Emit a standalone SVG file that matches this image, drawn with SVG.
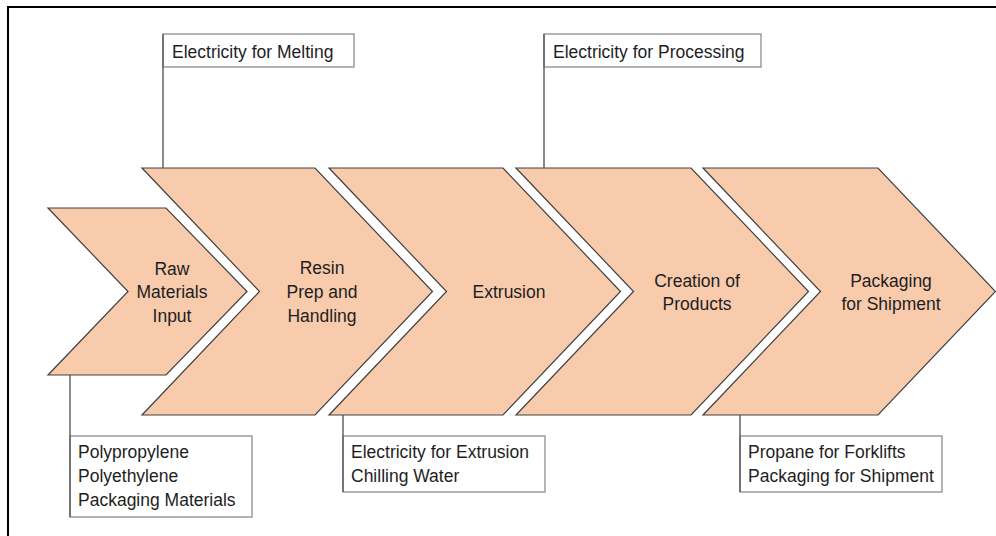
<svg xmlns="http://www.w3.org/2000/svg" width="996" height="536" viewBox="0 0 996 536">
<style>
.chev{fill:#F8CBAD;stroke:#404040;stroke-width:1.2;stroke-linejoin:miter}
.box{fill:#FFFFFF;stroke:#8C8C8C;stroke-width:1.3}
.lbl{font-family:"Liberation Sans",Arial,sans-serif;font-size:17.5px;fill:#1E1E1E}
.mid{text-anchor:middle}
.conn{stroke:#595959;stroke-width:1.4;fill:none}
.frame{stroke:#000000;stroke-width:2;fill:none}
</style>
<rect x="0" y="0" width="996" height="536" fill="#FFFFFF"/>
<path class="frame" d="M8,536 L8,7 L996,7"/>

<g id="raw-materials">
<polygon class="chev" points="48,208 166,208 247,291.5 166,375 48,375 128,291.5"/>
<text class="lbl mid" x="172" y="275">Raw</text>
<text class="lbl mid" x="172" y="298">Materials</text>
<text class="lbl mid" x="172" y="322">Input</text>
</g>
<g id="resin-prep">
<polygon class="chev" points="142,168 315,168 432.5,291.5 315,415 142,415 259.5,291.5"/>
<text class="lbl mid" x="322" y="274">Resin</text>
<text class="lbl mid" x="322" y="298">Prep and</text>
<text class="lbl mid" x="322" y="322">Handling</text>
</g>
<g id="extrusion">
<polygon class="chev" points="329,168 503,168 620.5,291.5 503,415 329,415 446.5,291.5"/>
<text class="lbl mid" x="509" y="298">Extrusion</text>
</g>
<g id="creation">
<polygon class="chev" points="516,168 691,168 808.5,291.5 691,415 516,415 633.5,291.5"/>
<text class="lbl mid" x="697" y="287">Creation of</text>
<text class="lbl mid" x="697" y="310">Products</text>
</g>
<g id="packaging">
<polygon class="chev" points="703,168 878,168 995.5,291.5 878,415 703,415 820.5,291.5"/>
<text class="lbl mid" x="891" y="287">Packaging</text>
<text class="lbl mid" x="891" y="310">for Shipment</text>
</g>

<g id="note-melting">
<rect class="box" x="163" y="34" width="191" height="33"/>
<text class="lbl" x="172" y="58">Electricity for Melting</text>
</g>
<g id="note-processing">
<rect class="box" x="544" y="34" width="217" height="33"/>
<text class="lbl" x="553" y="58">Electricity for Processing</text>
</g>
<g id="note-raw">
<rect class="box" x="70" y="436" width="182" height="81"/>
<text class="lbl" x="78" y="458">Polypropylene</text>
<text class="lbl" x="78" y="482">Polyethylene</text>
<text class="lbl" x="78" y="506">Packaging Materials</text>
</g>
<g id="note-extrusion">
<rect class="box" x="343" y="436" width="202" height="56"/>
<text class="lbl" x="351" y="458">Electricity for Extrusion</text>
<text class="lbl" x="351" y="482">Chilling Water</text>
</g>
<g id="note-packaging">
<rect class="box" x="740" y="436" width="202" height="56"/>
<text class="lbl" x="748" y="458">Propane for Forklifts</text>
<text class="lbl" x="748" y="482">Packaging for Shipment</text>
</g>

<g id="connectors">
<line class="conn" x1="163" y1="34" x2="163" y2="168"/>
<line class="conn" x1="544" y1="34" x2="544" y2="168"/>
<line class="conn" x1="70" y1="375" x2="70" y2="517"/>
<line class="conn" x1="343" y1="415" x2="343" y2="492"/>
<line class="conn" x1="740" y1="415" x2="740" y2="492"/>
</g>
</svg>
